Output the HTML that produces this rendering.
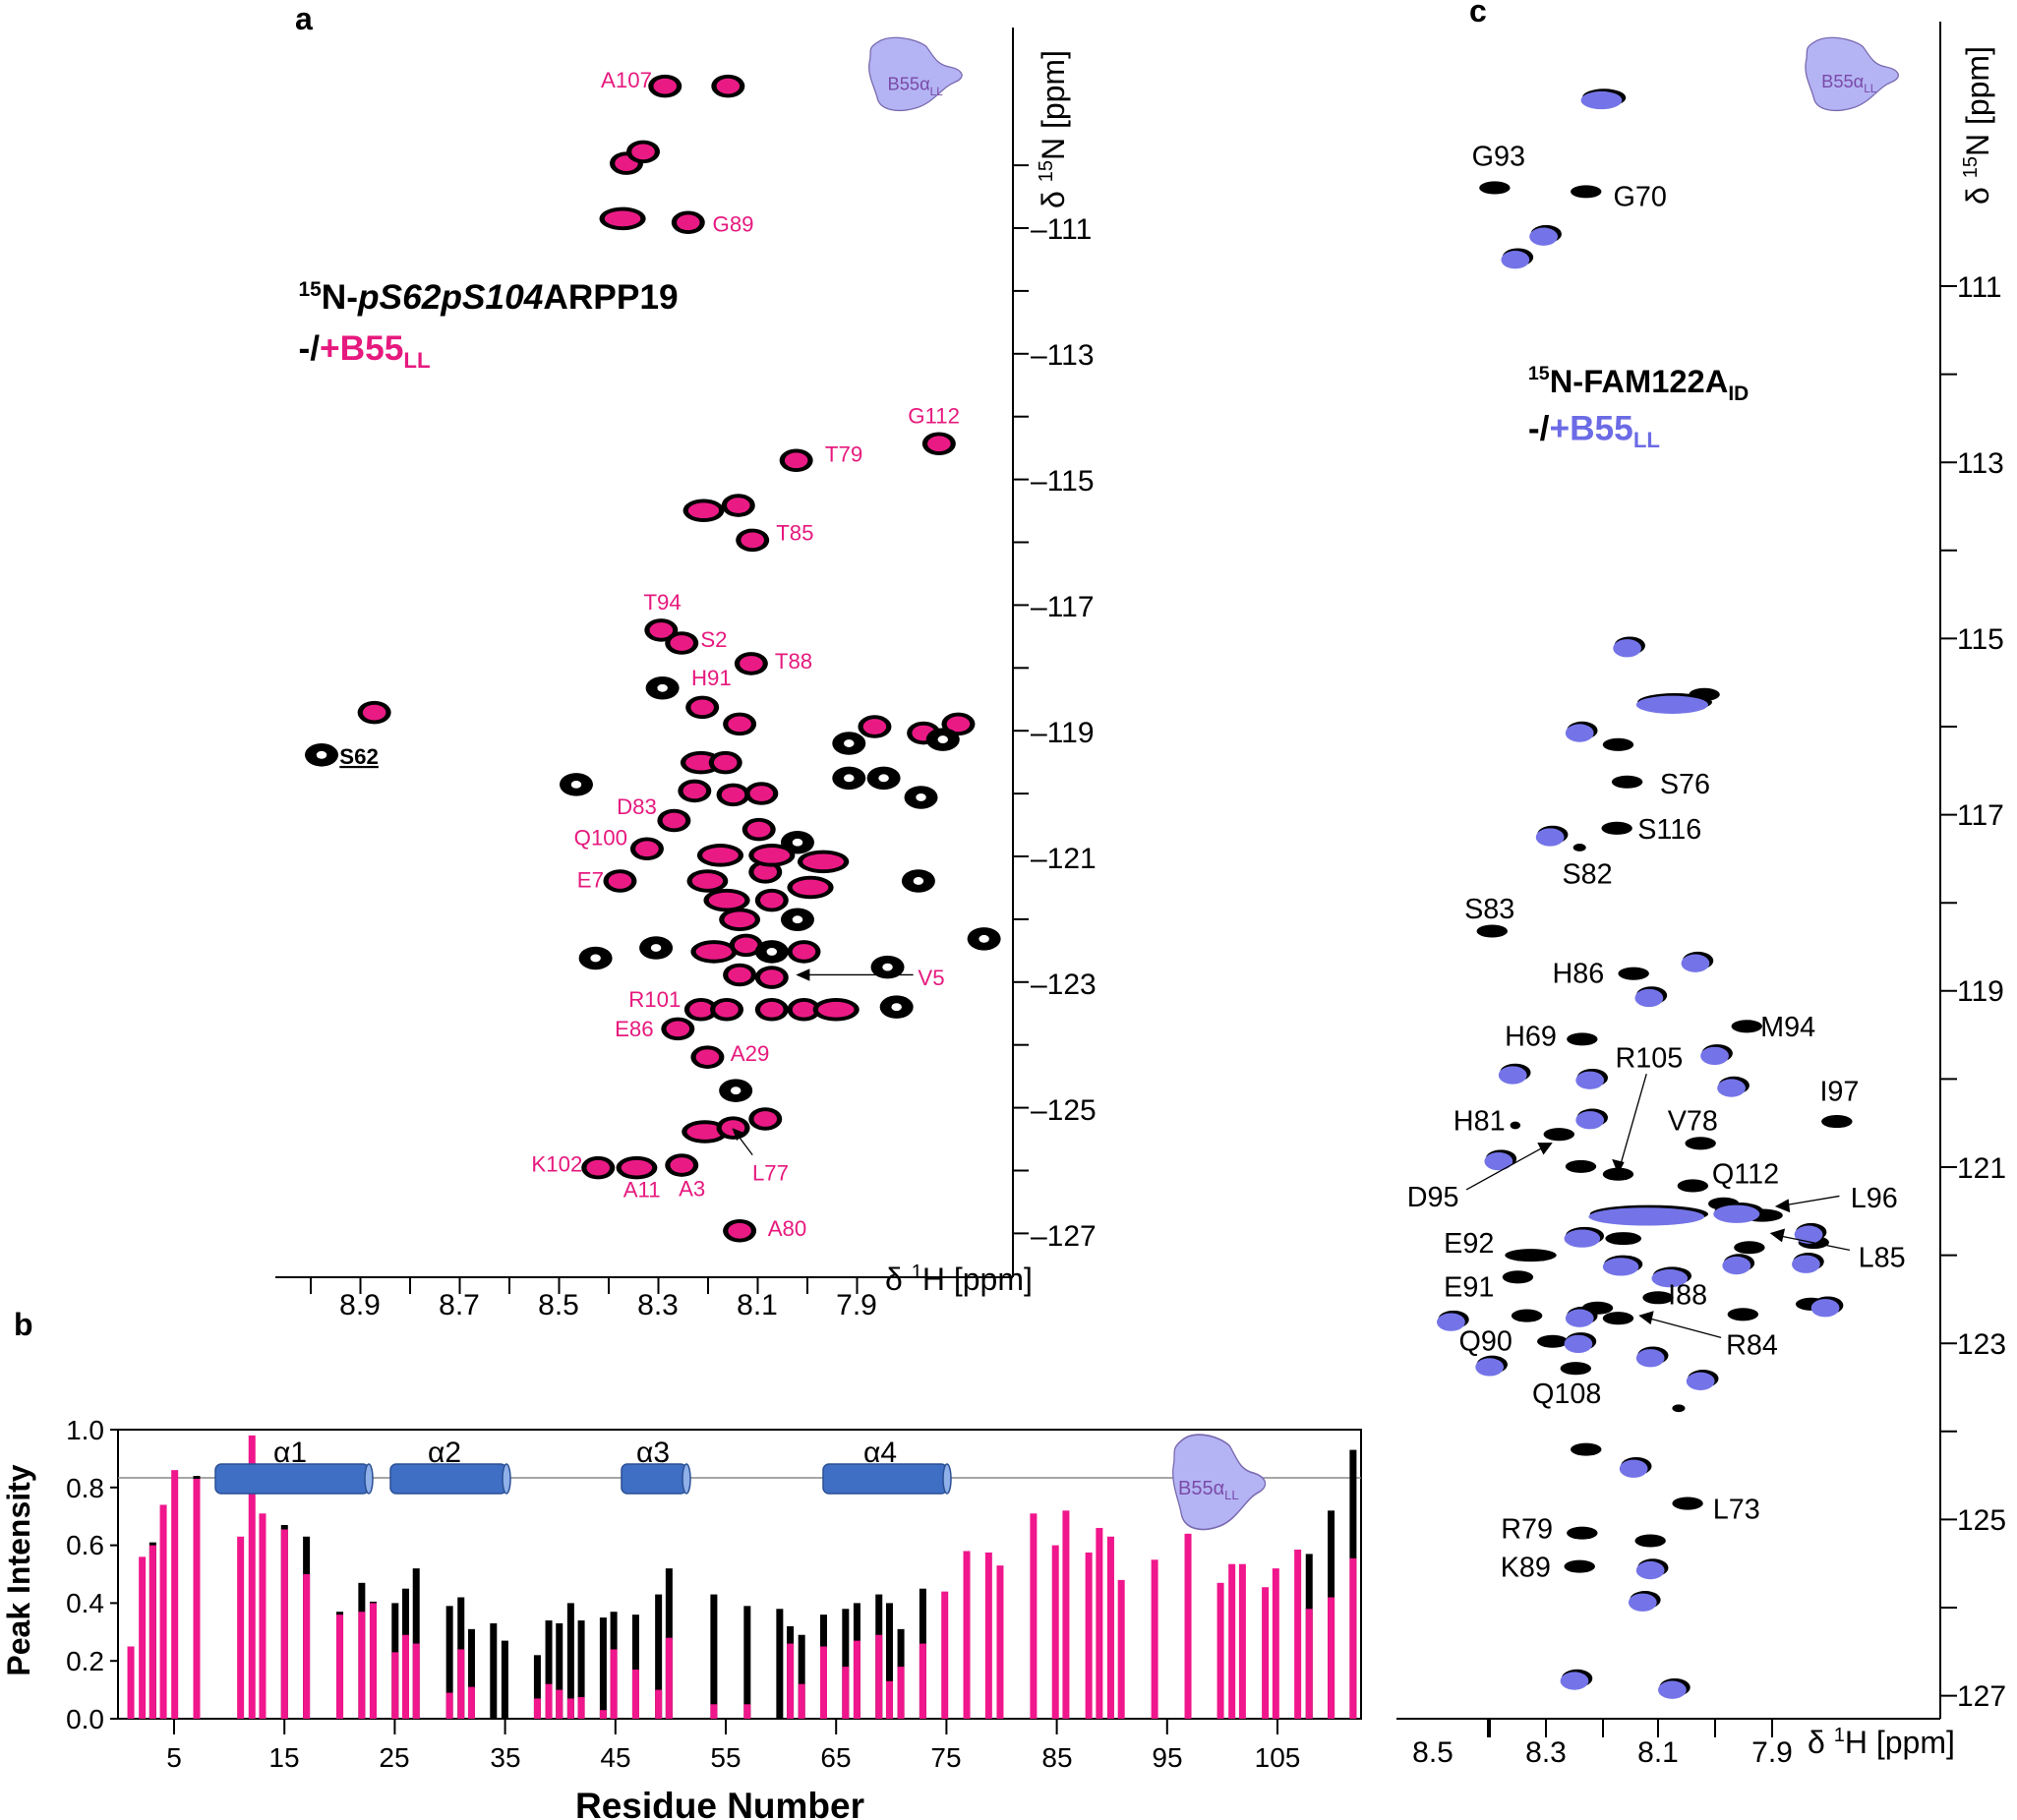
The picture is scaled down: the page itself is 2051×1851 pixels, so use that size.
<!DOCTYPE html>
<html><head><meta charset="utf-8"><style>
html,body{margin:0;padding:0;background:#fff;}
svg{display:block;font-family:"Liberation Sans",Arial,sans-serif;}
</style></head><body>
<svg id="s" xmlns="http://www.w3.org/2000/svg" width="2051" height="1851" viewBox="0 0 2051 1851">
<rect width="2051" height="1851" fill="#fff"/>
<defs>
<path id="blob" d="M-30,-25 C-20,-32 0,-28 8,-22 C14,-14 16,-8 26,-6 C36,-4 40,2 30,6 C20,10 14,22 0,26 C-14,30 -28,28 -30,18 C-32,10 -38,0 -36,-10 C-34,-18 -38,-20 -30,-25Z" fill="#b4b4f4" stroke="#7a6ab0" stroke-width="1"/>
</defs>

<!-- ===== Panel a axes ===== -->
<g stroke="#000" stroke-width="2" fill="none">
<line x1="280" y1="1299" x2="1030" y2="1299"/>
<line x1="1030" y1="28" x2="1030" y2="1299"/>
</g>
<g id="axA" stroke="#000" stroke-width="2"></g>
<g font-size="30" fill="#000" text-anchor="middle">
<text x="366" y="1337">8.9</text><text x="467" y="1337">8.7</text><text x="568" y="1337">8.5</text>
<text x="669" y="1337">8.3</text><text x="770" y="1337">8.1</text><text x="871" y="1337">7.9</text>
</g>
<text x="900" y="1312" font-size="32">δ <tspan font-size="20" dy="-12">1</tspan><tspan dy="12">H [ppm]</tspan></text>
<g font-size="30" fill="#000">
<text x="1048" y="243">–111</text><text x="1048" y="371">–113</text><text x="1048" y="499">–115</text>
<text x="1048" y="627">–117</text><text x="1048" y="755">–119</text><text x="1048" y="883">–121</text>
<text x="1048" y="1011">–123</text><text x="1048" y="1139">–125</text><text x="1048" y="1267">–127</text>
</g>
<text transform="translate(1082,212) rotate(-90)" font-size="32">δ <tspan font-size="20" dy="-12">15</tspan><tspan dy="12">N [ppm]</tspan></text>

<text x="300" y="30" font-size="32" font-weight="bold">a</text>
<text x="14" y="1358" font-size="32" font-weight="bold">b</text>
<text x="1494" y="22" font-size="32" font-weight="bold">c</text>

<!-- ===== Panel c axes ===== -->
<g stroke="#000" stroke-width="2" fill="none">
<line x1="1420" y1="1748" x2="1973" y2="1748"/>
<line x1="1973" y1="22" x2="1973" y2="1748"/>
</g>
<g id="axC" stroke="#000" stroke-width="2"></g>
<g font-size="30" fill="#000" text-anchor="middle">
<text x="1457" y="1792">8.5</text><text x="1572" y="1792">8.3</text><text x="1686" y="1792">8.1</text><text x="1802" y="1792">7.9</text>
</g>
<text x="1838" y="1783" font-size="32">δ <tspan font-size="20" dy="-12">1</tspan><tspan dy="12">H [ppm]</tspan></text>
<g font-size="30" fill="#000">
<text x="1990" y="302">111</text><text x="1990" y="481">113</text><text x="1990" y="660">115</text>
<text x="1990" y="839">117</text><text x="1990" y="1018">119</text><text x="1990" y="1198">121</text>
<text x="1990" y="1377">123</text><text x="1990" y="1556">125</text><text x="1990" y="1735">127</text>
</g>
<text transform="translate(2022,208) rotate(-90)" font-size="32">δ <tspan font-size="20" dy="-12">15</tspan><tspan dy="12">N [ppm]</tspan></text>

<!-- peaks (displayed coords scaled) -->
<g id="pk" transform="scale(1.308)"></g>

<g transform="scale(1.308)">
<use href="#blob" x="712" y="58"/>
<text x="690" y="70" font-size="14" fill="#7a4aa8">B55α<tspan font-size="9" dy="4">LL</tspan></text>
<use href="#blob" x="1440" y="58"/>
<text x="1416" y="68" font-size="14" fill="#7a4aa8">B55α<tspan font-size="9" dy="4">LL</tspan></text>

<text x="232" y="240" font-size="27" font-weight="bold"><tspan font-size="16" dy="-10">15</tspan><tspan dy="10">N-</tspan><tspan font-style="italic">pS62pS104</tspan>ARPP19</text>
<text x="232" y="280" font-size="27" font-weight="bold">-/<tspan fill="#e6197e">+B55<tspan font-size="17" dy="6">LL</tspan></tspan></text>

<text x="1188" y="305" font-size="25" font-weight="bold"><tspan font-size="15" dy="-10">15</tspan><tspan dy="10">N-FAM122A</tspan><tspan font-size="16" dy="6">ID</tspan></text>
<text x="1188" y="342" font-size="27" font-weight="bold">-/<tspan fill="#6b6be6">+B55<tspan font-size="17" dy="6">LL</tspan></tspan></text>

<g font-size="17" fill="#e6197e" text-anchor="middle">
<text x="487" y="68">A107</text><text x="570" y="180">G89</text><text x="726" y="329">G112</text>
<text x="656" y="359">T79</text><text x="618" y="420">T85</text><text x="515" y="474">T94</text>
<text x="555" y="503">S2</text><text x="617" y="520">T88</text><text x="553" y="533">H91</text>
<text x="495" y="633">D83</text><text x="467" y="657">Q100</text><text x="459" y="690">E7</text>
<text x="724" y="766">V5</text><text x="509" y="783">R101</text><text x="493" y="806">E86</text>
<text x="583" y="825">A29</text><text x="599" y="918">L77</text><text x="433" y="911">K102</text>
<text x="499" y="931">A11</text><text x="538" y="930">A3</text><text x="612" y="961">A80</text>
</g>
<text x="264" y="594" font-size="17" font-weight="bold" text-decoration="underline">S62</text>
<g stroke="#000" stroke-width="1" fill="#000">
<line x1="710" y1="758" x2="625" y2="758"/><path d="M620,758 l9,-4 v8z"/>
<line x1="585" y1="898" x2="573" y2="882"/><path d="M570,878 l8,3 l-5,5z"/>
<line x1="1140" y1="925" x2="1200" y2="892"/><path d="M1206,889 l-10,0 l4,8z"/>
<line x1="1280" y1="835" x2="1260" y2="905"/><path d="M1258,912 l-4,-10 l8,2z"/>
<line x1="1430" y1="930" x2="1388" y2="937"/><path d="M1381,938 l9,-5 l1,9z"/>
<line x1="1438" y1="972" x2="1384" y2="961"/><path d="M1377,959 l10,-3 l-2,9z"/>
<line x1="1338" y1="1040" x2="1282" y2="1025"/><path d="M1275,1023 l10,-3 l-2,9z"/>
</g>
<g font-size="22" fill="#000" text-anchor="middle">
<text x="1165" y="129">G93</text><text x="1275" y="160">G70</text><text x="1310" y="617">S76</text>
<text x="1298" y="652">S116</text><text x="1234" y="687">S82</text><text x="1158" y="714">S83</text>
<text x="1227" y="764">H86</text><text x="1390" y="806">M94</text><text x="1190" y="813">H69</text>
<text x="1282" y="830">R105</text><text x="1430" y="856">I97</text><text x="1150" y="879">H81</text>
<text x="1316" y="879">V78</text><text x="1114" y="938">D95</text><text x="1357" y="920">Q112</text>
<text x="1457" y="939">L96</text><text x="1142" y="974">E92</text><text x="1463" y="985">L85</text>
<text x="1142" y="1008">E91</text><text x="1312" y="1014">I88</text><text x="1362" y="1053">R84</text>
<text x="1155" y="1050">Q90</text><text x="1218" y="1091">Q108</text><text x="1350" y="1181">L73</text>
<text x="1187" y="1196">R79</text><text x="1186" y="1226">K89</text>
</g>
</g>

<!-- ===== Panel b ===== -->
<rect x="120" y="1454" width="1264" height="294" fill="none" stroke="#000" stroke-width="2"/>
<line x1="120" y1="1503" x2="1384" y2="1503" stroke="#888" stroke-width="1.5"/>
<g id="bars"></g>
<g fill="#3f6fc4" stroke="#2a4f94" stroke-width="1.5">
<rect x="219" y="1489" width="156" height="30" rx="6"/><ellipse cx="375" cy="1504" rx="4" ry="15" fill="#8fb0e8"/>
<rect x="397" y="1489" width="118" height="30" rx="6"/><ellipse cx="515" cy="1504" rx="4" ry="15" fill="#8fb0e8"/>
<rect x="632" y="1489" width="66" height="30" rx="6"/><ellipse cx="698" cy="1504" rx="4" ry="15" fill="#8fb0e8"/>
<rect x="837" y="1489" width="126" height="30" rx="6"/><ellipse cx="963" cy="1504" rx="4" ry="15" fill="#8fb0e8"/>
</g>
<g font-size="30" text-anchor="middle">
<text x="295" y="1487">α1</text><text x="452" y="1487">α2</text><text x="664" y="1487">α3</text><text x="895" y="1487">α4</text>
</g>
<use href="#blob" transform="translate(1240,1508) scale(1.3,1.7)"/>
<text x="1198" y="1520" font-size="20" fill="#7a4aa8">B55α<tspan font-size="13" dy="5">LL</tspan></text>
<g id="axB" stroke="#000" stroke-width="2"></g>
<g font-size="28" text-anchor="end">
<text x="106" y="1758">0.0</text><text x="106" y="1699">0.2</text><text x="106" y="1640">0.4</text>
<text x="106" y="1581">0.6</text><text x="106" y="1523">0.8</text><text x="106" y="1464">1.0</text>
</g>
<g font-size="28" text-anchor="middle">
<text x="177" y="1797">5</text><text x="289" y="1797">15</text><text x="401" y="1797">25</text><text x="514" y="1797">35</text>
<text x="626" y="1797">45</text><text x="738" y="1797">55</text><text x="850" y="1797">65</text><text x="962" y="1797">75</text>
<text x="1075" y="1797">85</text><text x="1187" y="1797">95</text><text x="1299" y="1797">105</text>
</g>
<text x="732" y="1849" font-size="37" font-weight="bold" text-anchor="middle">Residue Number</text>
<text transform="translate(30,1597) rotate(-90)" font-size="32" font-weight="bold" text-anchor="middle">Peak Intensity</text>

<script>
var NS="http://www.w3.org/2000/svg";
function el(p,t,a){var e=document.createElementNS(NS,t);for(var k in a)e.setAttribute(k,a[k]);p.appendChild(e);return e;}
var s=document.getElementById.bind(document);
var g=s('axA');
for(var i=0;i<12;i++){var x=316+i*50.5;el(g,'line',{x1:x,y1:1299,x2:x,y2:1316});}
for(var p=110;p<=127;p++){var y=232+(p-111)*63.9;el(g,'line',{x1:1030,y1:y,x2:1046,y2:y});}
g=s('axC');
[1514,1572,1630,1686,1744,1802].forEach(function(x,i){el(g,'line',{x1:x,y1:1748,x2:x,y2:1767,'stroke-width':i==0?4:2});});
for(var p=111;p<=127;p++){var y=291+(p-111)*89.6;el(g,'line',{x1:1973,y1:y,x2:1990,y2:y});}
g=s('axB');
for(var i=0;i<=5;i++){var y=1748-i*58.8;el(g,'line',{x1:112,y1:y,x2:120,y2:y});}
for(var i=0;i<11;i++){var x=177+i*112.2;el(g,'line',{x1:x,y1:1748,x2:x,y2:1764});}
var B=[[149,.25],[162,.56],[174,.60,.61],[186,.74],[199,.86],[224,.83,.84],[274,.63],[287,.98],[299,.71],[324,.655,.67],[349,.50,.63],[387,.36,.37],[412,.37,.47],[425,.40,.405],[450,.23,.40],[462,.29,.45],[474,.26,.52],[512,.09,.39],[525,.24,.42],[537,.11,.31],[562,0,.33],[575,0,.27],[612,.07,.22],[625,.12,.34],[637,.10,.33],[650,.07,.40],[662,.075,.34],[687,.03,.35],[699,.24,.37],[724,.17,.36],[750,.10,.43],[762,.28,.52],[813,.05,.43],[851,.05,.39],[888,0,.38],[900,.26,.32],[913,.12,.29],[938,.25,.36],[963,.18,.38],[976,.27,.40],[1001,.29,.43],[1013,.13,.40],[1026,.18,.31],[1051,.26,.45],[1076,.44],[1101,.58],[1126,.575],[1139,.53],[1177,.71],[1202,.60],[1214,.72],[1240,.575],[1252,.66],[1265,.63],[1277,.48],[1315,.55],[1353,.64],[1390,.47],[1403,.535],[1415,.535],[1441,.455],[1453,.52],[1478,.585],[1491,.38,.57],[1516,.42,.72],[1541,.555,.93]];
g=s('bars');
B.forEach(function(b){var x=b[0]/1.12-3.5;var y0=1748;
 if(b[2]){el(g,'rect',{x:x,y:y0-b[2]*294,width:7,height:b[2]*294,fill:'#000'});}
 if(b[1]>0)el(g,'rect',{x:x,y:y0-b[1]*294,width:7,height:b[1]*294,fill:'#f0168c'});});
g=s('pk');
var A=[[517,67],[566,67],[487,127],[500,118],[484,170,16],[535,173],[730,345],[619,358],[547,397,14],[574,393],[585,420],[514,490],[530,500],[584,516],[515,535,0],[546,550],[291,554],[250,587,0],[575,563],[545,593,14],[564,593],[540,615],[570,618],[592,617],[448,610,0],[524,638],[503,660],[482,685],[550,685,14],[590,645],[595,678],[620,655,0],[660,578,0],[680,565],[687,605,0],[660,605,0],[716,620,0],[718,570],[745,563],[733,575,0],[714,685,0],[765,730,0],[463,745,0],[510,737,0],[555,740,16],[580,735],[600,740,0],[575,758],[600,760],[625,740],[690,752,0],[545,785],[565,785],[600,785],[625,785],[650,785,16],[697,783,0],[527,800],[550,822],[572,848,0],[548,880,16],[570,877],[595,870],[465,908],[495,908,14],[530,906],[575,957],[560,665,16],[600,665,16],[640,670,18],[565,700,16],[600,700],[630,690,16],[575,715,14],[620,715,0]];
A.forEach(function(p){var rx=p[2]||11;el(g,'ellipse',{cx:p[0],cy:p[1],rx:rx+2,ry:9,fill:'#000'});
 if(p[2]===0)el(g,'ellipse',{cx:p[0],cy:p[1],rx:4,ry:3,fill:'#fff'});
 else el(g,'ellipse',{cx:p[0],cy:p[1],rx:rx-2,ry:6,fill:'#ea1a85'});});
var K=[[1162,146],[1233,149],[1325,540],[1258,579],[1265,608],[1257,644],[1228,659,5],[1160,724],[1270,757],[1358,798],[1230,808],[1178,875,4],[1212,882],[1322,889],[1229,907],[1258,913],[1316,922],[1428,872],[1340,936],[1370,945,16],[1190,976,20],[1360,970],[1180,993],[1289,1009],[1242,1017],[1187,1023],[1355,1022],[1258,1025],[1207,1043],[1225,1064],[1305,1095,5],[1233,1127],[1312,1169],[1230,1192],[1283,1198],[1228,1218],[1408,1014],[1410,966],[1262,963,14]];
var U=[[1245,77,16],[1200,183],[1178,201],[1265,503],[1300,547,28],[1228,569],[1205,650],[1282,775],[1318,748],[1333,820],[1176,835],[1236,839],[1346,845],[1236,870],[1165,902],[1280,945,45],[1350,943,18],[1406,959],[1230,962,14],[1260,984,14],[1298,993,14],[1350,983],[1404,982],[1228,1024],[1128,1027],[1227,1044],[1158,1062],[1283,1055],[1322,1073],[1270,1141],[1283,1220],[1277,1245],[1224,1306],[1300,1313],[1419,1016]];
K.forEach(function(p){var rx=p[2]||12;el(g,'ellipse',{cx:p[0],cy:p[1],rx:rx,ry:rx<6?3:5,fill:'#000'});});
U.forEach(function(p){var rx=p[2]||11;el(g,'ellipse',{cx:p[0]+2,cy:p[1]-1,rx:rx+1,ry:7,fill:'#000'});el(g,'ellipse',{cx:p[0],cy:p[1]+1,rx:rx,ry:7,fill:'#7474e8'});});
</script>
</svg>
</body></html>
